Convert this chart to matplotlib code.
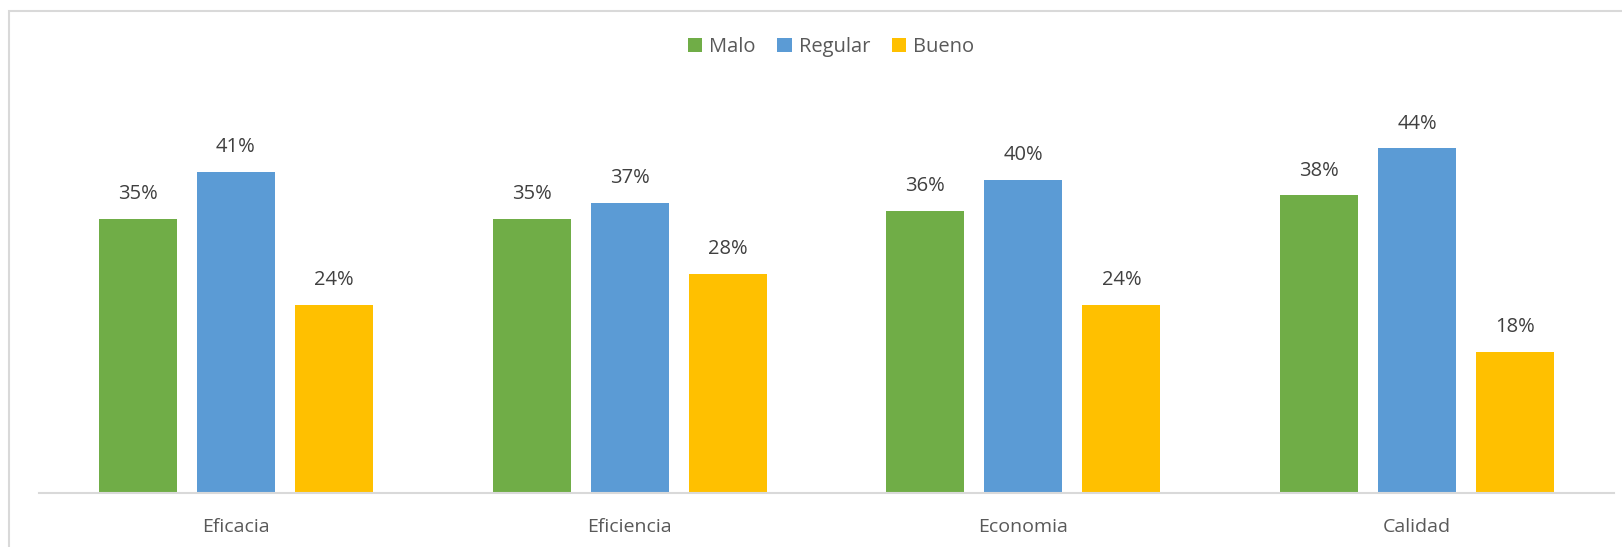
import matplotlib.pyplot as plt
import numpy as np
from matplotlib.patches import Rectangle

plt.rcParams["font.family"] = ["Open Sans", "DejaVu Sans"]

categories = ["Eficacia", "Eficiencia", "Economia", "Calidad"]
series = ["Malo", "Regular", "Bueno"]
malo = [0.35, 0.35, 0.36, 0.38]
regular = [0.41, 0.37, 0.40, 0.44]
bueno = [0.24, 0.28, 0.24, 0.18]
colors = ["#70ad47", "#5b9bd5", "#ffc000"]

W, H = 1622, 547
fig = plt.figure(figsize=(W / 100, H / 100), dpi=100)
# axes in pixel coords: x 39..1614, baseline at y=493
ax = fig.add_axes([39 / W, (H - 493) / H, (1614 - 39) / W, 431 / H])

x = np.arange(len(categories))
bw = 0.198
step = 0.249
for i, (name, vals) in enumerate(zip(series, [malo, regular, bueno])):
    pos = x + (i - 1) * step
    ax.bar(pos, vals, width=bw, color=colors[i], label=name, zorder=2)
    for p, v in zip(pos, vals):
        ax.annotate(f"{v*100:.0f}%", (p, v), xytext=(0, 10.5), textcoords="offset points",
                    ha="center", va="bottom", fontsize=14.5, color="#404040")

ax.set_xlim(-0.5, len(categories) - 0.5)
ax.set_ylim(0, 0.55)
ax.set_xticks(x)
ax.set_xticklabels(categories, fontsize=14, color="#595959")
ax.tick_params(axis="x", length=0, pad=18)
ax.set_yticks([])
for s in ["top", "right", "left"]:
    ax.spines[s].set_visible(False)
ax.spines["bottom"].set_color("#d9d9d9")
ax.spines["bottom"].set_linewidth(1.5)

leg = fig.legend(loc="center", bbox_to_anchor=(831 / W, 1 - 47 / H), ncol=3, frameon=False,
                 fontsize=14.5, handlelength=0.7, handleheight=0.7, handletextpad=0.35,
                 columnspacing=1.1)
for t in leg.get_texts():
    t.set_color("#595959")

# light chart frame
fig.patches.append(Rectangle((9 / W, -0.05), 1.1, 1 - 11 / H + 0.05, transform=fig.transFigure,
                             fill=False, edgecolor="#d9d9d9", linewidth=1.5))

fig.savefig("out.png", dpi=100)
